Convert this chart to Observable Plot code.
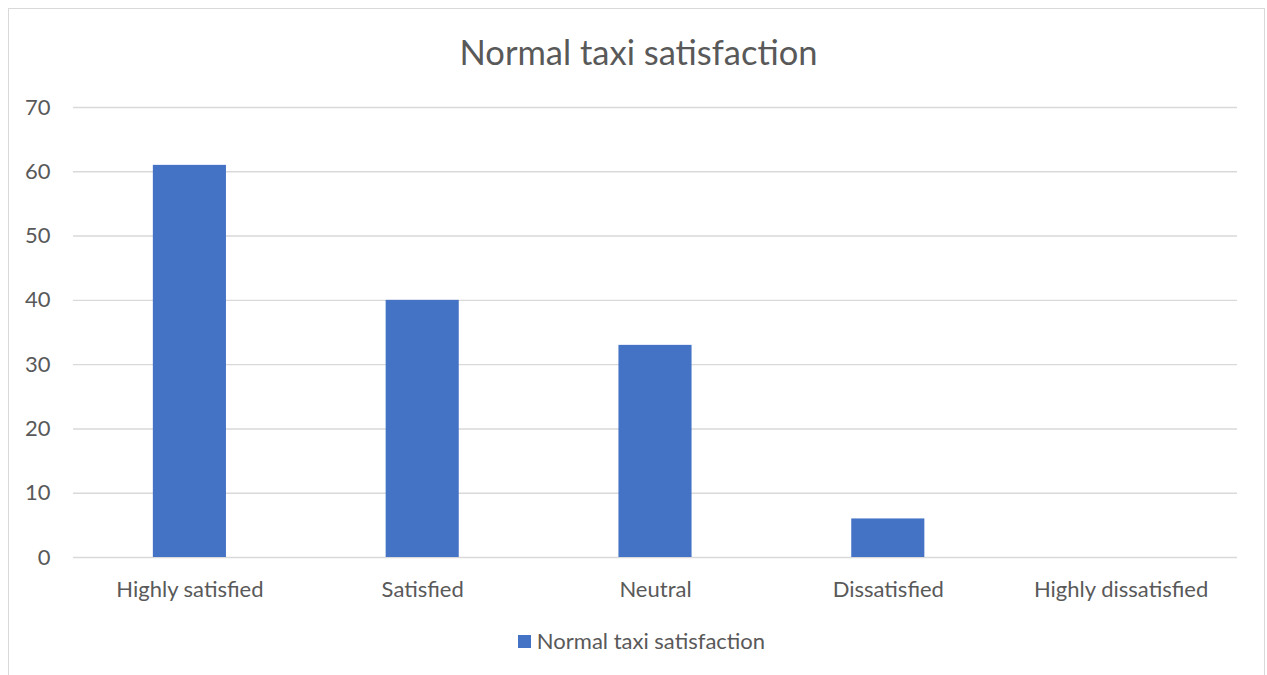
<!DOCTYPE html>
<html>
<head>
<meta charset="utf-8">
<script src="https://cdn.jsdelivr.net/npm/d3@7"></script>
<script src="https://cdn.jsdelivr.net/npm/@observablehq/plot@0.6"></script>
<style>
  html, body { margin: 0; padding: 0; background: #fff; }
  body { width: 1267px; height: 675px; overflow: hidden; position: relative; font-family: Lato, "Open Sans", sans-serif; color: #595959; }
  #frame { position: absolute; left: 8px; top: 8px; width: 1257px; height: 700px; border: 1.5px solid #d9d9d9; box-sizing: border-box; }
  #title { position: absolute; left: 5px; width: 1267px; top: 29px; text-align: center; font-size: 34.5px; line-height: 46px; color: #595959; }
  #chart { position: absolute; left: 0; top: 80px; }
  #legend { position: absolute; left: 8px; width: 1267px; top: 628px; display: flex; justify-content: center; align-items: center; font-size: 22px; line-height: 26px; color: #595959; }
  #legend .sw { width: 13px; height: 13px; background: #4472c4; margin-right: 6px; }
</style>
</head>
<body>
<div id="frame"></div>
<div id="title">Normal taxi satisfaction</div>
<div id="chart"></div>
<div id="legend"><span class="sw"></span><span id="legend-label"></span></div>
<script>
// Survey responses: rating categories and number of respondents
const seriesName = "Normal taxi satisfaction";
const categories = ["Highly satisfied", "Satisfied", "Neutral", "Dissatisfied", "Highly dissatisfied"];
const counts = [61, 40, 33, 6, 0];
const yTicks = [0, 10, 20, 30, 40, 50, 60, 70];

const rows = categories.map((c, i) => ({category: c, count: counts[i]}));
document.getElementById("legend-label").textContent = seriesName;

const chart = Plot.plot({
  width: 1267,
  height: 530,
  marginLeft: 73,
  marginRight: 30,
  marginTop: 27,
  marginBottom: 53,
  style: {fontFamily: "Lato, 'Open Sans', sans-serif", fontSize: "22px", color: "#595959", background: "transparent"},
  x: {domain: categories, paddingInner: 0.686, paddingOuter: 0.343, round: false, label: null},
  y: {domain: [0, 70], label: null},
  marks: [
    Plot.ruleY(yTicks, {stroke: "#d9d9d9", strokeWidth: 1.4}),
    Plot.barY(rows, {x: "category", y: "count", fill: "#4472c4"}),
    Plot.axisY(yTicks, {tickSize: 0, tickPadding: 23, label: null, fill: "#595959", fontSize: 22}),
    Plot.axisX({tickSize: 0, tickPadding: 24, label: null, fill: "#595959", fontSize: 22})
  ]
});
document.getElementById("chart").appendChild(chart);
</script>
</body>
</html>
